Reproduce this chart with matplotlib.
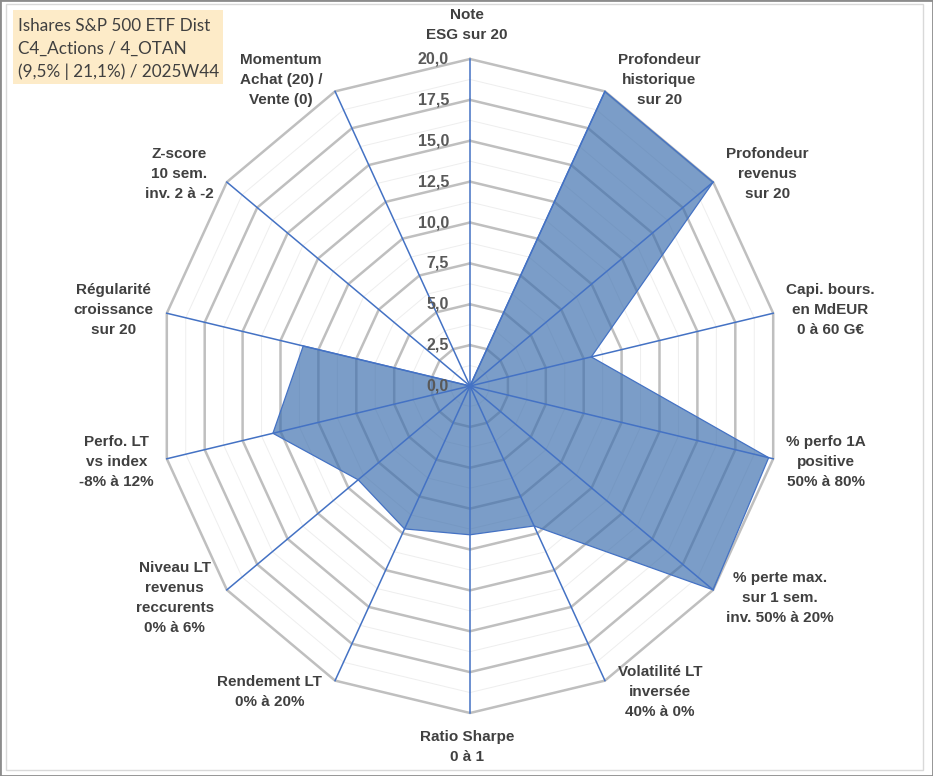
import numpy as np
import matplotlib.pyplot as plt
from matplotlib.patches import Rectangle

# radar data (score sur 20)
categories = [
    "Note\nESG sur 20",
    "Profondeur\nhistorique\nsur 20",
    "Profondeur\nrevenus\nsur 20",
    "Capi. bours.\nen MdEUR\n0 à 60 G€",
    "% perfo 1A\npositive\n50% à 80%",
    "% perte max.\nsur 1 sem.\ninv. 50% à 20%",
    "Volatilité LT\ninversée\n40% à 0%",
    "Ratio Sharpe\n0 à 1",
    "Rendement LT\n0% à 20%",
    "Niveau LT\nrevenus\nreccurents\n0% à 6%",
    "Perfo. LT\nvs index\n-8% à 12%",
    "Régularité\ncroissance\nsur 20",
    "Z-score\n10 sem.\ninv. 2 à -2",
    "Momentum\nAchat (20) /\nVente (0)",
]
values = [0, 20, 20, 8.0, 19.7, 20, 9.5, 9.1, 9.7, 9.2, 13.0, 11.0, 0, 0]
ticks = [0, 2.5, 5, 7.5, 10, 12.5, 15, 17.5, 20]
title = "Ishares S&P 500 ETF Dist\nC4_Actions / 4_OTAN\n(9,5% | 21,1%) / 2025W44"

W, H = 933, 776
fig = plt.figure(figsize=(W / 100, H / 100), dpi=100)
ax = fig.add_axes([0, 0, 1, 1])
ax.axis('off')

# chart centre and scale in pixels (Excel stretches the radar a bit)
cx, cy = 470, 386
ppu_x, ppu_y = 311 / 20, 327 / 20
ax.set_xlim(-cx / ppu_x, (W - cx) / ppu_x)
ax.set_ylim(-(H - cy) / ppu_y, cy / ppu_y)

n = len(categories)
ang = np.arange(n) * 2 * np.pi / n
sx, sy = np.sin(ang), np.cos(ang)
sxc, syc = np.append(sx, sx[0]), np.append(sy, sy[0])
rmax = ticks[-1]

# polygon gridlines
for r in np.arange(1.25, rmax + 0.01, 1.25):
    if abs(r / 2.5 - round(r / 2.5)) < 1e-6:
        ax.plot(sxc * r, syc * r, color='#BFBFBF', lw=1.8, zorder=2,
                solid_joinstyle='miter')
    else:
        ax.plot(sxc * r, syc * r, color='#EEEEEE', lw=0.7, zorder=1)

# series
v = np.array(values, dtype=float)
vc = np.append(v, v[0])
ax.fill(sxc * vc, syc * vc, facecolor='#3D6FAE', alpha=0.68, zorder=3)
ax.plot(sxc * vc, syc * vc, color='#4472C4', lw=0.9, zorder=4)

# spokes
for i in range(n):
    ax.plot([0, sx[i] * rmax], [0, sy[i] * rmax], color='#4472C4', lw=1.1, zorder=5)

# value labels on the top spoke
for t in ticks:
    ax.annotate(f"{t:.1f}".replace('.', ','), xy=(0, t), xytext=(-21, 0),
                textcoords='offset pixels', ha='right', va='center',
                fontsize=11.5, fontweight='bold', color='#595959',
                family='Liberation Sans', zorder=6)

# category labels
for i, lab in enumerate(categories):
    xy = (sx[i] * rmax, sy[i] * rmax)
    if abs(sx[i]) < 1e-6:
        if sy[i] > 0:
            off, ha, va = (-3, 17), 'center', 'bottom'
        else:
            off, ha, va = (-3, -17), 'center', 'top'
    else:
        ha = 'left' if sx[i] > 0 else 'right'
        off, va = (np.sign(sx[i]) * 13, 13 * sy[i]), 'center'
    ax.annotate(lab, xy=xy, xytext=off, textcoords='offset pixels',
                ha=ha, va=va, multialignment='center', linespacing=1.55,
                fontsize=11, fontweight='bold', color='#404040',
                family='Liberation Sans', zorder=6)

# title box
fig.patches.append(Rectangle((13 / W, 1 - 84 / H), 210 / W, 74 / H,
                             transform=fig.transFigure, facecolor='#FDEBC8',
                             edgecolor='none', zorder=0))
fig.text(18 / W, 1 - 18 / H, title, ha='left', va='top', fontsize=12.3,
         family='Lato', color='#404040', linespacing=1.52)

# borders
fig.patches.append(Rectangle((6 / W, 1 - 770 / H), 917 / W, 766 / H,
                             transform=fig.transFigure, fill=False,
                             edgecolor='#D9D9D9', lw=1))
fig.patches.append(Rectangle((0, 0), 1, 1, transform=fig.transFigure,
                             fill=False, edgecolor='#8C8C8C', lw=2))

fig.savefig('out.png', dpi=100, facecolor='white')
